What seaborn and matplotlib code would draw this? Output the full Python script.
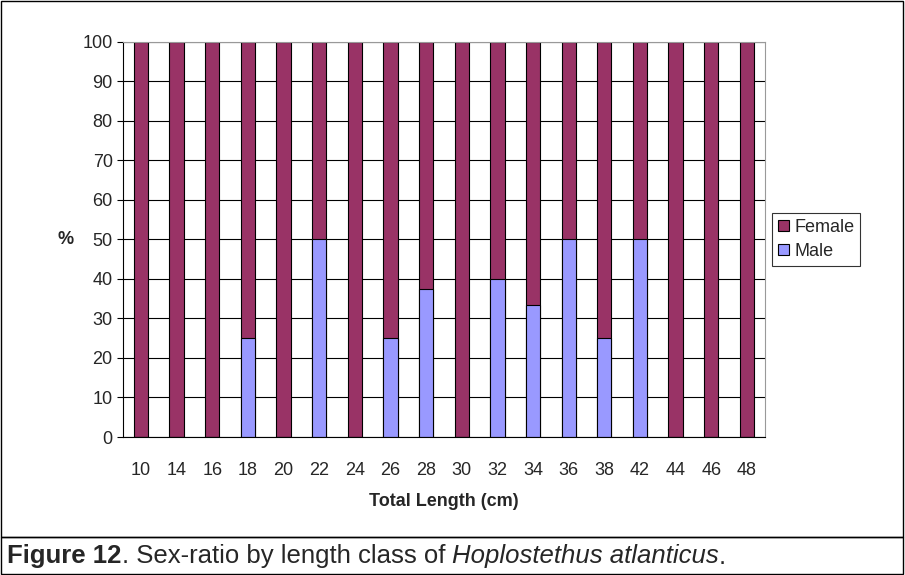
import numpy as np
import pandas as pd
import matplotlib
matplotlib.use("Agg")
import matplotlib.pyplot as plt
import seaborn as sns
from matplotlib.patches import Rectangle

sns.set_style("white")
plt.rcParams["font.family"] = ["Liberation Sans", "DejaVu Sans"]

lengths = ["10", "14", "16", "18", "20", "22", "24", "26", "28", "30",
           "32", "34", "36", "38", "42", "44", "46", "48"]
male = [0, 0, 0, 25, 0, 50, 0, 25, 37.5, 0, 40, 33.3, 50, 25, 50, 0, 0, 0]

FEMALE_COLOR = "#993366"
MALE_COLOR = "#9999FF"

df = pd.DataFrame({"length": lengths, "Male": male, "Total": [100] * len(lengths)})

fig = plt.figure(figsize=(9.05, 5.75), dpi=100)
ax = fig.add_axes([0.136, 0.240, 0.709, 0.687])

sns.barplot(data=df, x="length", y="Total", color=FEMALE_COLOR, width=0.4,
            edgecolor="black", linewidth=0.8, ax=ax, saturation=1, label="Female")
sns.barplot(data=df, x="length", y="Male", color=MALE_COLOR, width=0.4,
            edgecolor="black", linewidth=0.8, ax=ax, saturation=1, label="Male")

ax.set_ylim(0, 100)
ax.set_xlim(-0.5, len(lengths) - 0.5)
ax.set_yticks(range(0, 101, 10))
ax.yaxis.grid(True, color="black", linewidth=0.8)
ax.set_axisbelow(True)
ax.tick_params(axis="both", labelsize=13, length=4, direction="out", color="black")
ax.tick_params(axis="x", length=0, pad=18)
ax.yaxis.set_tick_params(left=True)
for s in ["left", "bottom"]:
    ax.spines[s].set_color("black")
for s in ["right", "top"]:
    ax.spines[s].set_color("#999999")
ax.set_xlabel("Total Length (cm)", fontsize=13, fontweight="bold", labelpad=10)
ax.set_ylabel("%", fontsize=13, fontweight="bold", rotation=0, labelpad=12, va="center")

leg = ax.legend(loc="center left", bbox_to_anchor=(1.012, 0.5), fontsize=13,
                frameon=True, fancybox=False, edgecolor="black",
                handlelength=0.6, handleheight=0.6, handletextpad=0.3,
                borderpad=0.3, labelspacing=0.4, borderaxespad=0)
leg.get_frame().set_linewidth(0.8)

# frames around chart and caption
fig.patches.append(Rectangle((0.001, 0.066), 0.997, 0.932, transform=fig.transFigure,
                             fill=False, edgecolor="black", linewidth=1))
fig.patches.append(Rectangle((0.001, 0.001), 0.997, 0.065, transform=fig.transFigure,
                             fill=False, edgecolor="black", linewidth=1))
cap_y = 0.02
t1 = fig.text(0.008, cap_y, "Figure 12", fontsize=18.5, fontweight="bold", va="baseline")
t2 = fig.text(0, 0, ". Sex-ratio by length class of ", fontsize=18.5, va="baseline")
t3 = fig.text(0, 0, "Hoplostethus atlanticus", fontsize=18.5, style="italic", va="baseline")
t4 = fig.text(0, 0, ".", fontsize=18.5, va="baseline")
fig.canvas.draw()
r = fig.canvas.get_renderer()
x = t1.get_window_extent(r).x1 / fig.bbox.width
for t in (t2, t3, t4):
    t.set_position((x, cap_y))
    x = t.get_window_extent(r).x1 / fig.bbox.width

fig.savefig("out.png", dpi=100)
